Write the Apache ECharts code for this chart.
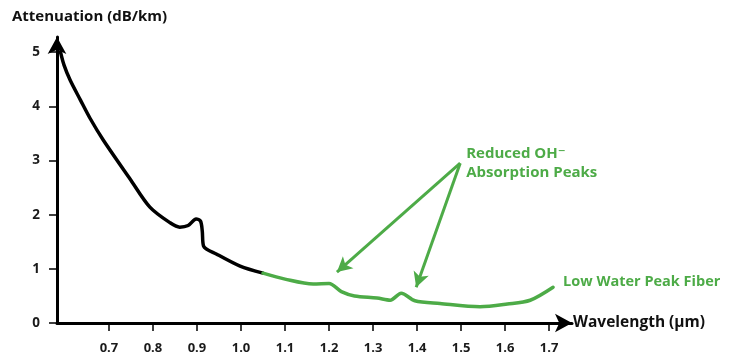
<!DOCTYPE html>
<html>
<head>
<meta charset="utf-8">
<script src="https://cdn.jsdelivr.net/npm/echarts@6/dist/echarts.min.js"></script>
<style>
  html, body { margin: 0; padding: 0; background: #fff; }
  #chart { width: 736px; height: 359px; }
</style>
</head>
<body>
<div id="chart"></div>
<script>
// Attenuation spectrum of standard fiber (short wavelengths) and low water peak fiber
const standardWavelength = [0.59, 0.598, 0.612, 0.635, 0.657, 0.687, 0.748, 0.793, 0.839, 0.861, 0.88, 0.898, 0.908, 0.912, 0.915, 0.945, 0.998, 1.05];
const standardLoss       = [5.0, 4.76, 4.48, 4.12, 3.78, 3.38, 2.66, 2.14, 1.85, 1.77, 1.80, 1.92, 1.88, 1.70, 1.42, 1.27, 1.05, 0.92];

const lwpWavelength = [1.05, 1.10, 1.164, 1.20, 1.228, 1.258, 1.309, 1.339, 1.364, 1.395, 1.452, 1.543, 1.605, 1.657, 1.709];
const lwpLoss       = [0.92, 0.81, 0.72, 0.73, 0.58, 0.50, 0.46, 0.42, 0.55, 0.41, 0.36, 0.30, 0.35, 0.42, 0.66];

const xTicks = [0.7, 0.8, 0.9, 1.0, 1.1, 1.2, 1.3, 1.4, 1.5, 1.6, 1.7];
const yTicks = [0, 1, 2, 3, 4, 5];

// annotation: label anchor and the two OH- peaks it points at
const noteAnchor = [1.498, 2.95];
const notePeaks = [[1.218, 0.94], [1.398, 0.66]];

const GREEN = '#4dab47';
const FONT = '"Open Sans", "DejaVu Sans", sans-serif';

const zip = (xs, ys) => xs.map((x, i) => [x, ys[i]]);

const chart = echarts.init(document.getElementById('chart'));
chart.setOption({
  animation: false,
  title: {
    text: 'Attenuation (dB/km)',
    left: 7, top: 4,
    textStyle: { fontFamily: FONT, fontWeight: 'bold', fontSize: 15, color: '#111' }
  },
  grid: { left: 57, top: 37, width: 515, height: 286, containLabel: false },
  xAxis: {
    type: 'value',
    min: 0.582, max: 1.752,
    name: 'Wavelength (µm)',
    nameLocation: 'end',
    nameGap: 1,
    nameTextStyle: { fontFamily: FONT, fontWeight: 'bold', fontSize: 15.5, color: '#111', align: 'left', verticalAlign: 'middle' },
    axisLine: { lineStyle: { color: '#000', width: 3 }, symbol: ['none', 'arrow'], symbolSize: [14, 17] },
    axisTick: { show: true, customValues: xTicks, length: 8, lineStyle: { color: '#000', width: 1.5 } },
    axisLabel: { customValues: xTicks, margin: 19, fontFamily: FONT, fontWeight: 'bold', fontSize: 13, color: '#1a1a1a',
      formatter: v => v.toFixed(1) },
    splitLine: { show: false }
  },
  yAxis: {
    type: 'value',
    min: 0, max: 5.28,
    axisLine: { show: true, lineStyle: { color: '#000', width: 3 }, symbol: ['none', 'arrow'], symbolSize: [14, 17] },
    axisTick: { show: true, customValues: yTicks, length: 8, lineStyle: { color: '#000', width: 1.5 } },
    axisLabel: { customValues: yTicks, margin: 17, fontFamily: FONT, fontWeight: 'bold', fontSize: 13.5, color: '#1a1a1a' },
    splitLine: { show: false }
  },
  series: [
    {
      name: 'Standard Fiber',
      type: 'line',
      data: zip(standardWavelength, standardLoss),
      smooth: 0.3,
      showSymbol: false,
      lineStyle: { color: '#000', width: 3.5, cap: 'round' },
      z: 3
    },
    {
      name: 'Low Water Peak Fiber',
      type: 'line',
      data: zip(lwpWavelength, lwpLoss),
      smooth: 0.3,
      showSymbol: false,
      lineStyle: { color: GREEN, width: 3.5, cap: 'round' },
      endLabel: {
        show: true,
        formatter: 'Low Water Peak Fiber',
        distance: 10,
        offset: [0, -5],
        fontFamily: FONT, fontWeight: 'bold', fontSize: 14.5, color: GREEN
      },
      markLine: {
        silent: true,
        symbol: ['none', 'arrow'],
        symbolSize: [12, 15],
        label: { show: false },
        lineStyle: { color: GREEN, width: 3, type: 'solid' },
        emphasis: { disabled: true },
        data: notePeaks.map(p => [{ coord: noteAnchor }, { coord: p }])
      },
      markPoint: {
        silent: true,
        symbol: 'circle',
        symbolSize: 0,
        data: [{ coord: noteAnchor }],
        label: {
          show: true,
          position: 'right',
          distance: 6,
          formatter: 'Reduced OH\u207B\nAbsorption Peaks',
          fontFamily: FONT, fontWeight: 'bold', fontSize: 15, lineHeight: 19, color: GREEN, align: 'left'
        }
      },
      z: 3
    }
  ]
});
</script>
</body>
</html>
